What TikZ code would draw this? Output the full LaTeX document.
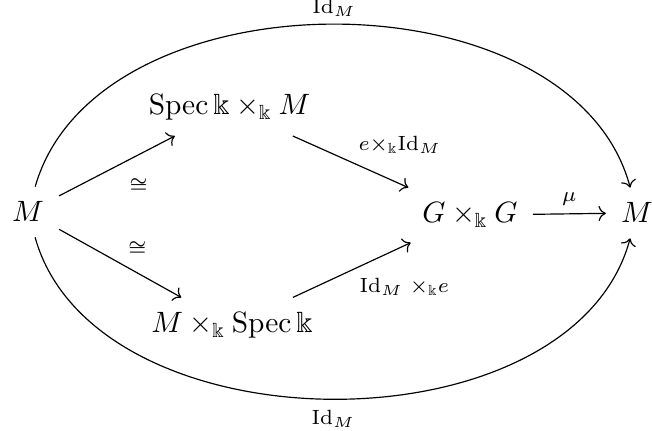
\documentclass[tikz,border=0pt]{standalone}
\usepackage{amsmath,amssymb}
\usetikzlibrary{cd}
\begin{document}
\begin{tikzpicture}[x=0.34pt,y=0.34pt,
  obj/.style={anchor=base,inner sep=5pt},
  arr/.style={draw,-cm to,line width=0.4pt},
  lab/.style={inner sep=2.5pt}]
\useasboundingbox (0,0) rectangle (652,431);
\node[obj] (M1) at (28,209) {$M$};
\node[obj] (S1) at (229.5,316) {$\operatorname{Spec}\Bbbk\times_{\Bbbk}M$};
\node[obj] (S2) at (232,98) {$M\times_{\Bbbk}\operatorname{Spec}\Bbbk$};
\node[obj] (G) at (470,208) {$G\times_{\Bbbk}G$};
\node[obj] (M2) at (637,208) {$M$};
\draw[arr] (M1) -- node[lab,auto,swap,inner sep=4pt] {$\scriptstyle\cong$} (S1);
\draw[arr] (M1) -- node[lab,auto] {$\scriptstyle\cong$} (S2);
\draw[arr] (S1) -- node[lab,auto] {$\scriptstyle e\times_{\Bbbk}\mathrm{Id}_M$} (G);
\draw[arr] (S2) -- node[lab,auto,swap] {$\scriptstyle\mathrm{Id}_M\;\times_{\Bbbk}e$} (G);
\draw[arr] (G) -- node[lab,auto] {$\scriptstyle\mu$} (M2);
\draw[arr] (M1) .. controls +(69,242) and +(-65,243) .. node[lab,above] {$\scriptstyle\mathrm{Id}_M$} (M2);
\draw[arr] (M1) .. controls +(67,-240) and +(-65,-241) .. node[lab,below,inner sep=3.5pt] {$\scriptstyle\mathrm{Id}_M$} (M2);
\end{tikzpicture}
\end{document}
